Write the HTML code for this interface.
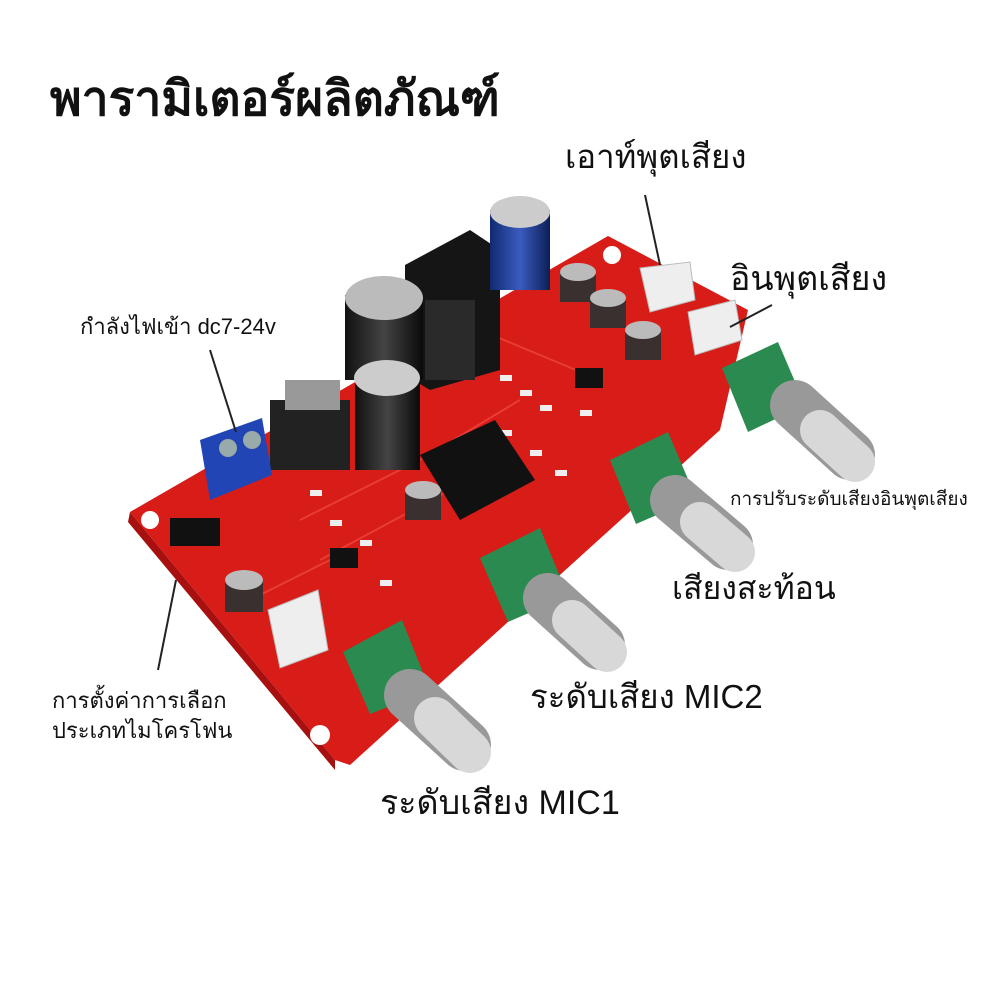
<!DOCTYPE html>
<html><head><meta charset="utf-8"><style>
body{margin:0;background:#fff;width:1000px;height:1000px;overflow:hidden;position:relative;font-family:"Liberation Sans","DejaVu Sans",sans-serif;color:#111}
.t{position:absolute;white-space:nowrap;line-height:1}
svg{position:absolute;left:0;top:0}
</style></head><body>
<svg width="1000" height="1000" viewBox="0 0 1000 1000">
<defs>
<linearGradient id="cap" x1="0" x2="1"><stop offset="0" stop-color="#111"/><stop offset=".5" stop-color="#444"/><stop offset="1" stop-color="#0a0a0a"/></linearGradient>
<linearGradient id="bcap" x1="0" x2="1"><stop offset="0" stop-color="#102a70"/><stop offset=".5" stop-color="#3a5cc0"/><stop offset="1" stop-color="#0c1e55"/></linearGradient>
</defs>
<polygon points="130,512 608,236 748,310 720,430 350,765 335,760" fill="#d81c18"/>
<polygon points="130,512 335,760 335,770 128,522" fill="#a81010"/>
<circle cx="150" cy="520" r="9" fill="#fff"/><circle cx="320" cy="735" r="10" fill="#fff"/><circle cx="612" cy="255" r="9" fill="#fff"/>
<g stroke="#f04a40" stroke-width="2" fill="none" opacity=".7">
<path d="M300,520 L420,460 L520,400"/><path d="M320,560 L450,490"/><path d="M480,330 L600,380"/><path d="M250,600 L330,560"/>
</g>
<g fill="#eee">
<rect x="480" y="360" width="12" height="6"/><rect x="500" y="375" width="12" height="6"/><rect x="520" y="390" width="12" height="6"/><rect x="540" y="405" width="12" height="6"/><rect x="500" y="430" width="12" height="6"/><rect x="530" y="450" width="12" height="6"/><rect x="555" y="470" width="12" height="6"/><rect x="330" y="520" width="12" height="6"/><rect x="360" y="540" width="12" height="6"/><rect x="380" y="580" width="12" height="6"/><rect x="310" y="490" width="12" height="6"/><rect x="580" y="410" width="12" height="6"/>
</g>
<polygon points="405,265 470,230 500,250 500,370 430,390 405,375" fill="#151515"/>
<rect x="270" y="400" width="80" height="70" fill="#222"/>
<rect x="285" y="380" width="55" height="30" fill="#999"/>
<rect x="425" y="300" width="50" height="80" fill="#2a2a2a"/>
<rect x="345" y="295" width="78" height="85" fill="url(#cap)"/><ellipse cx="384" cy="298" rx="39" ry="22" fill="#bbb"/>
<rect x="355" y="375" width="65" height="95" fill="url(#cap)"/><ellipse cx="387" cy="378" rx="33" ry="18" fill="#ccc"/>
<rect x="490" y="210" width="60" height="80" fill="url(#bcap)"/><ellipse cx="520" cy="212" rx="30" ry="16" fill="#ccc"/>
<g><rect x="560" y="272" width="36" height="30" fill="#3a3030"/><ellipse cx="578" cy="272" rx="18" ry="9" fill="#bbb"/>
<rect x="590" y="298" width="36" height="30" fill="#3a3030"/><ellipse cx="608" cy="298" rx="18" ry="9" fill="#bbb"/>
<rect x="625" y="330" width="36" height="30" fill="#3a3030"/><ellipse cx="643" cy="330" rx="18" ry="9" fill="#bbb"/>
<rect x="405" y="490" width="36" height="30" fill="#3a3030"/><ellipse cx="423" cy="490" rx="18" ry="9" fill="#bbb"/>
<rect x="225" y="580" width="38" height="32" fill="#3a3030"/><ellipse cx="244" cy="580" rx="19" ry="10" fill="#bbb"/></g>
<polygon points="420,455 495,420 535,480 460,520" fill="#111"/>
<rect x="575" y="368" width="28" height="20" fill="#111"/><rect x="330" y="548" width="28" height="20" fill="#111"/>
<polygon points="200,440 262,418 272,475 210,500" fill="#2145b5"/>
<circle cx="228" cy="448" r="9" fill="#9aa"/><circle cx="252" cy="440" r="9" fill="#9aa"/>
<rect x="170" y="518" width="50" height="28" fill="#111"/>
<polygon points="640,268 690,262 695,300 650,312" fill="#eee" stroke="#bbb"/>
<polygon points="688,312 735,300 742,340 695,355" fill="#eee" stroke="#bbb"/>
<polygon points="268,610 318,590 328,650 280,668" fill="#eee" stroke="#bbb"/>
<g stroke-linecap="round">
<polygon points="722,368 778,342 805,405 748,432" fill="#2a8a50"/>
<line x1="795" y1="405" x2="850" y2="455" stroke="#999" stroke-width="50"/>
<line x1="820" y1="430" x2="855" y2="462" stroke="#d8d8d8" stroke-width="40"/>
<polygon points="610,460 668,432 696,498 636,524" fill="#2a8a50"/>
<line x1="675" y1="500" x2="728" y2="545" stroke="#999" stroke-width="50"/>
<line x1="700" y1="522" x2="735" y2="552" stroke="#d8d8d8" stroke-width="40"/>
<polygon points="480,558 540,528 568,596 508,622" fill="#2a8a50"/>
<line x1="548" y1="598" x2="600" y2="645" stroke="#999" stroke-width="50"/>
<line x1="572" y1="620" x2="607" y2="652" stroke="#d8d8d8" stroke-width="40"/>
<polygon points="343,652 402,620 430,690 370,714" fill="#2a8a50"/>
<line x1="410" y1="695" x2="465" y2="745" stroke="#999" stroke-width="52"/>
<line x1="435" y1="718" x2="470" y2="752" stroke="#d8d8d8" stroke-width="42"/>
</g>
<g stroke="#222" stroke-width="2">
<line x1="645" y1="195" x2="660" y2="265"/><line x1="772" y1="305" x2="730" y2="327"/>
<line x1="210" y1="350" x2="236" y2="432"/><line x1="176" y1="580" x2="158" y2="670"/>
</g>
</svg>
<div class="t" style="left:50px;top:76px;font-size:48px;font-weight:bold">พารามิเตอร์ผลิตภัณฑ์</div>
<div class="t" style="left:565px;top:140px;font-size:33px">เอาท์พุตเสียง</div>
<div class="t" style="left:730px;top:262px;font-size:34px">อินพุตเสียง</div>
<div class="t" style="left:80px;top:316px;font-size:22px">กำลังไฟเข้า dc7-24v</div>
<div class="t" style="left:730px;top:490px;font-size:19px">การปรับระดับเสียงอินพุตเสียง</div>
<div class="t" style="left:672px;top:572px;font-size:32px">เสียงสะท้อน</div>
<div class="t" style="left:530px;top:680px;font-size:33px">ระดับเสียง MIC2</div>
<div class="t" style="left:52px;top:686px;font-size:22px;line-height:30px">การตั้งค่าการเลือก<br>ประเภทไมโครโฟน</div>
<div class="t" style="left:380px;top:786px;font-size:34px">ระดับเสียง MIC1</div>
</body></html>
